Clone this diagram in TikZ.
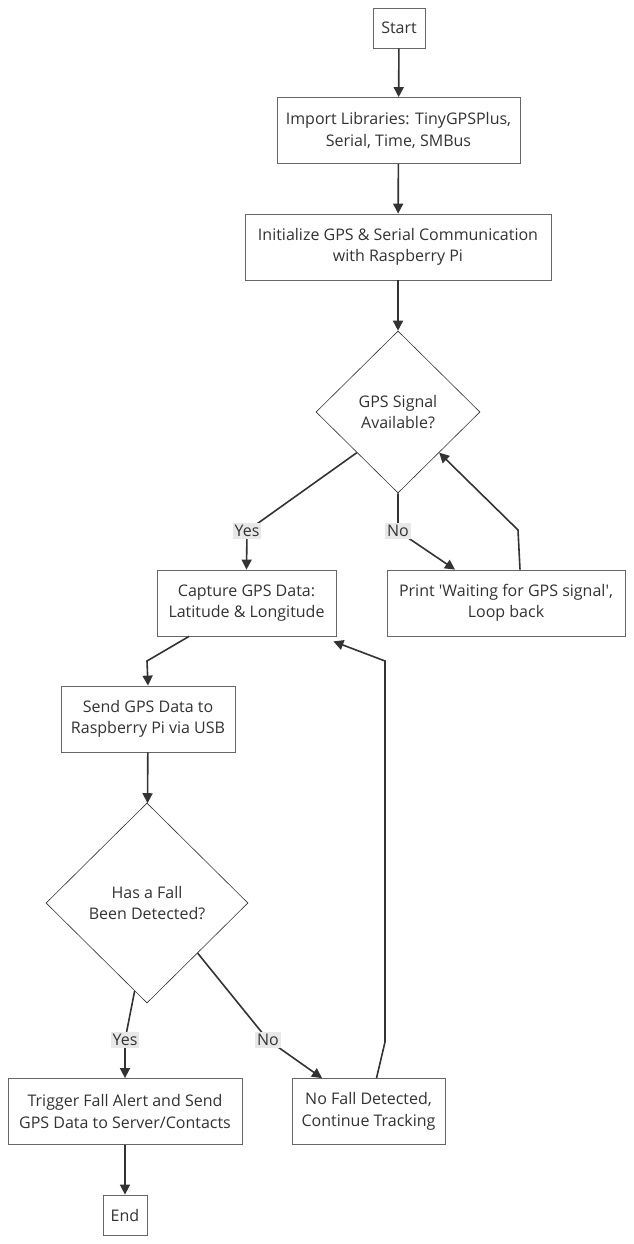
\documentclass[tikz,border=0pt]{standalone}
\usepackage{fontspec}
\setmainfont{Open Sans}
\usetikzlibrary{arrows.meta,shapes.geometric}

\definecolor{edgegray}{HTML}{333333}
\definecolor{boxgray}{HTML}{666666}
\definecolor{lblgray}{HTML}{E8E8E8}

\begin{document}
\begin{tikzpicture}[x=1pt,y=-1pt,->,>={Triangle[length=10pt,width=10pt]},
    line width=1.6pt,color=edgegray,
    every node/.style={font=\fontsize{16}{21.5}\selectfont,text=edgegray},
    box/.style={draw=boxgray,line width=0.8pt,fill=white,align=center,
      inner sep=0pt,minimum height=66},
    smallbox/.style={box,minimum height=40},
    decision/.style={diamond,draw=edgegray,line width=0.6pt,fill=white,
      align=center,inner sep=0pt},
    lbl/.style={fill=lblgray,inner sep=2pt}]
      \useasboundingbox (0,0) rectangle (633,1244);

      \node[smallbox,minimum width=52]  (start)   at (399,28)      {Start};
      \node[box,minimum width=243]      (import)  at (398.5,130.5) {Import Libraries: TinyGPSPlus,\\Serial, Time, SMBus};
      \node[box,minimum width=306]      (init)    at (398,247)     {Initialize GPS \& Serial Communication\\with Raspberry Pi};
      \node[decision,minimum width=164,minimum height=162] (gps) at (398,412) {GPS Signal\\Available?};
      \node[box,minimum width=179]      (capture) at (246.5,603)   {Capture GPS Data:\\Latitude \& Longitude};
      \node[box,minimum width=238]      (print)   at (506,603)     {Print \textquotesingle Waiting for GPS signal\textquotesingle,\\Loop back};
      \node[box,minimum width=174]      (send)    at (148,719)     {Send GPS Data to\\Raspberry Pi via USB};
      \node[decision,minimum width=202,minimum height=200] (fall) at (147,903) {Has a Fall\\Been Detected?};
      \node[box,minimum width=234]      (trigger) at (125,1111.5)  {Trigger Fall Alert and Send\\GPS Data to Server/Contacts};
      \node[box,minimum width=153]      (nofall)  at (368.5,1111.5){No Fall Detected,\\Continue Tracking};
      \node[smallbox,minimum width=44]  (end)     at (125,1215)    {End};

      % straight links
      \draw (start)  -- (import);
      \draw (import) -- (init);
      \draw (init)   -- (gps);
      \draw (send)   -- (fall);
      \draw (trigger) -- (end);

      % GPS decision
      \draw (gps.south west) -- (247,531) node[lbl] {Yes} -- (capture.north);
      \draw (gps.south) -- (398,531) node[lbl] {No} -- ([xshift=-51]print.north);
      \draw ([xshift=14]print.north) -- (518,530) -- (gps.south east);

      \draw ([xshift=-57.5]capture.south) -- (147,661) -- (send.north);

      % fall decision
      \draw (fall.-98) -- (125,1040) node[lbl] {Yes} -- (trigger.north);
      \draw (fall.south east) -- (268,1040) node[lbl] {No} -- ([xshift=-46.5]nofall.north);
      \draw ([xshift=8]nofall.north) -- (385,1042) -- (385,661) -- ([xshift=-3,yshift=-5]capture.south east);
\end{tikzpicture}
\end{document}
